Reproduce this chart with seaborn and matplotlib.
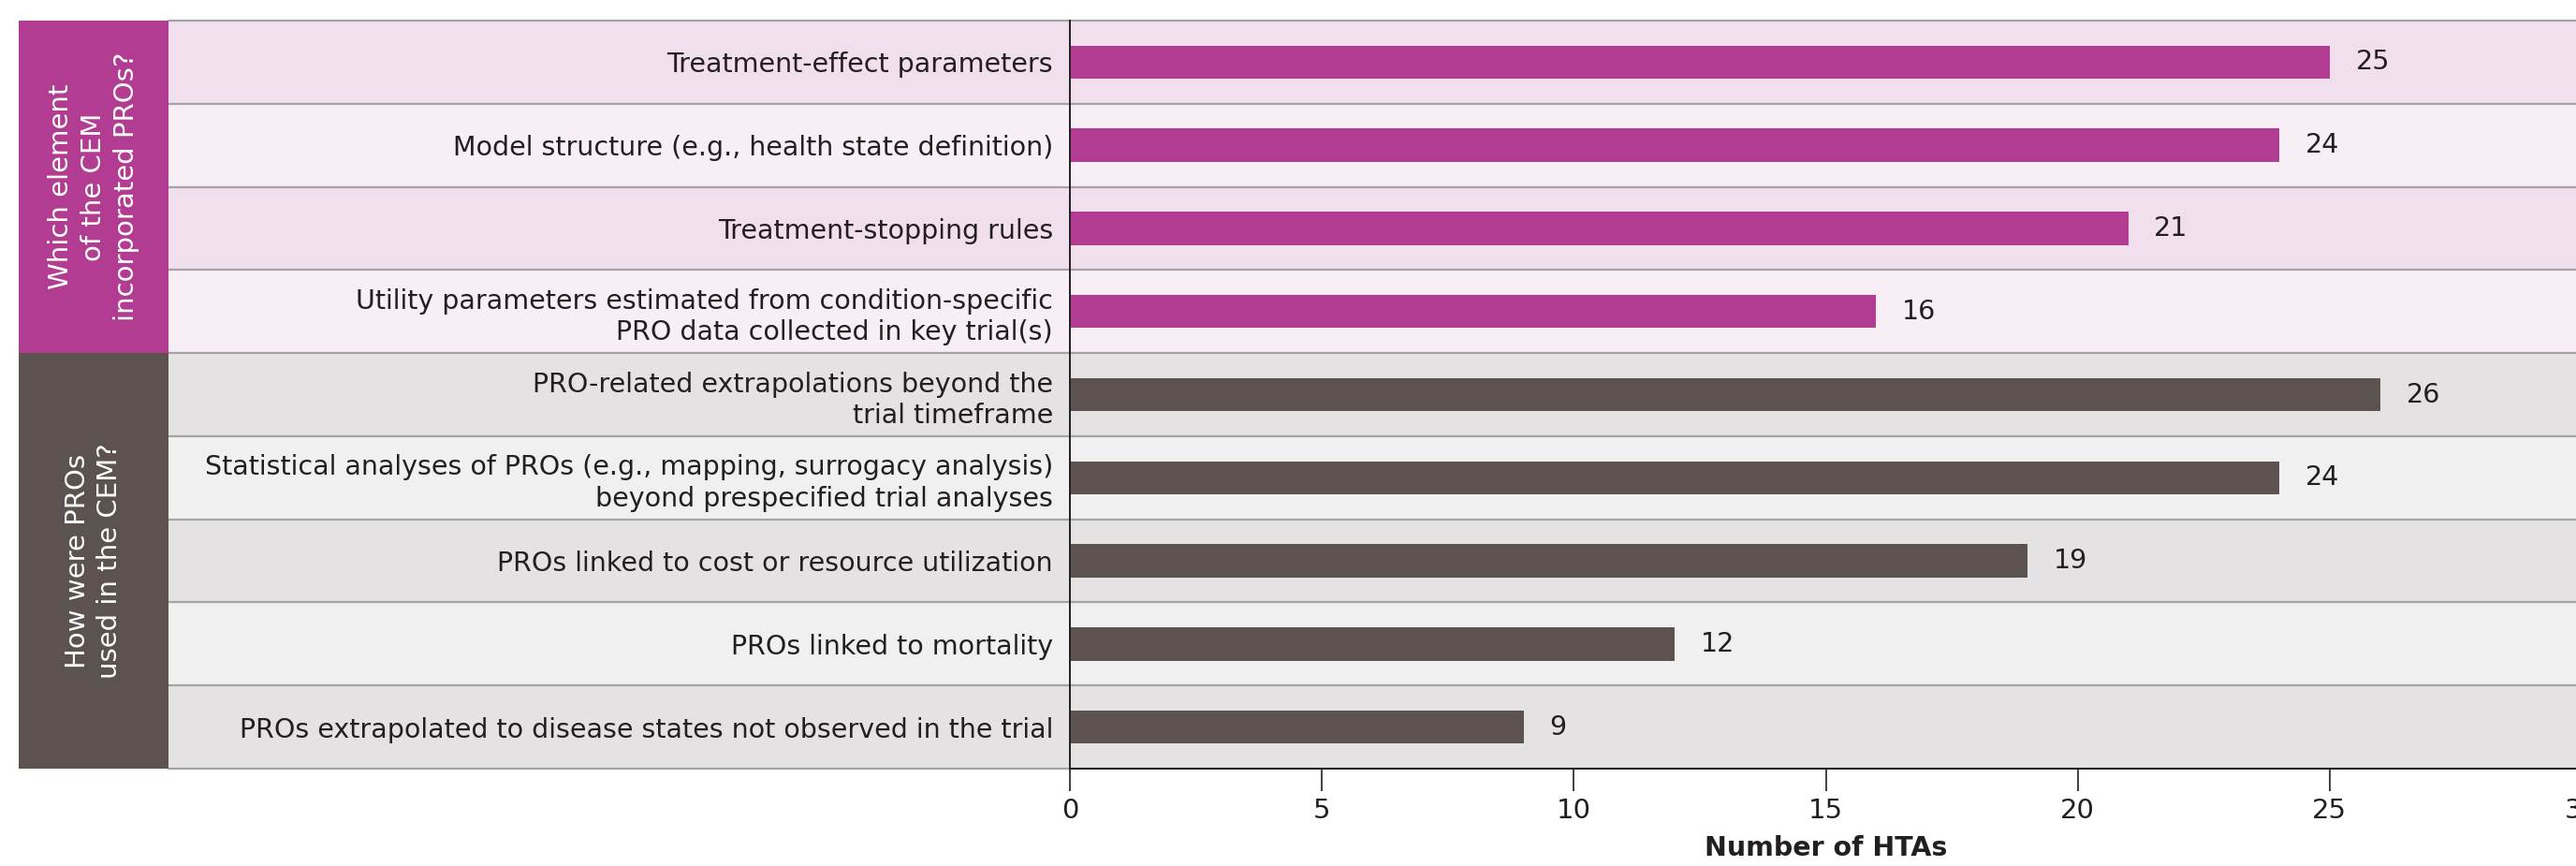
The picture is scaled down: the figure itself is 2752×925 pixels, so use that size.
import pandas as pd
import seaborn as sns
import matplotlib.pyplot as plt
import matplotlib.transforms as mtransforms
from matplotlib.patches import Rectangle

# ── Data ───────────────────────────────────────────────────────────────────────
labels = [
    "Treatment-effect parameters",
    "Model structure (e.g., health state definition)",
    "Treatment-stopping rules",
    "Utility parameters estimated from condition-specific\nPRO data collected in key trial(s)",
    "PRO-related extrapolations beyond the\ntrial timeframe",
    "Statistical analyses of PROs (e.g., mapping, surrogacy analysis)\nbeyond prespecified trial analyses",
    "PROs linked to cost or resource utilization",
    "PROs linked to mortality",
    "PROs extrapolated to disease states not observed in the trial",
]
counts = [25, 24, 21, 16, 26, 24, 19, 12, 9]
groups = ["element"] * 4 + ["use"] * 5
group_titles = {
    "element": "Which element\nof the CEM\nincorporated PROs?",
    "use": "How were PROs\nused in the CEM?",
}
x_ticks = [0, 5, 10, 15, 20, 25, 30]

df = pd.DataFrame({"label": labels, "count": counts, "group": groups})

# ── Style ──────────────────────────────────────────────────────────────────────
magenta = "#B23C91"
darkgrey = "#5C5351"
band_colors = ["#F1DFEE", "#F8EEF6", "#F1DFEE", "#F8EEF6",
               "#E4E2E3", "#F0F0F0", "#E4E2E3", "#F0F0F0", "#E4E2E3"]
text_col = "#231F20"

sns.set_style("white")
plt.rcParams["font.family"] = ["DejaVu Sans"]

W, H = 2752, 925
fig = plt.figure(figsize=(W / 100, H / 100), dpi=100)
# axis x=0 at px 1143, x=30 at px 2758 ; rows from y=22 to y=821
ax = fig.add_axes([1143 / W, (H - 821) / H, (2758 - 1143) / W, (821 - 22) / H])

sns.barplot(data=df, x="count", y="label", hue="group",
            palette={"element": magenta, "use": darkgrey}, saturation=1,
            width=0.4, dodge=False, legend=False, ax=ax, zorder=3,
            linewidth=0)

ax.set_xlim(0, 30)
ax.set_ylim(8.5, -0.5)

# ── Row bands and separators (extend left under labels) ───────────────────────
xmin_frac = (180 - 1143) / (2758 - 1143)
for i, c in enumerate(band_colors):
    band = ax.axhspan(i - 0.5, i + 0.5, xmin=xmin_frac, xmax=1, color=c, zorder=0, lw=0)
    band.set_clip_on(False)
for i in range(10):
    ax.axhline(i - 0.5, xmin=xmin_frac, xmax=1, color="#A5A3A4", lw=1.6,
               zorder=1, clip_on=False)

# ── Group boxes ────────────────────────────────────────────────────────────────
trans = mtransforms.blended_transform_factory(fig.transFigure, ax.transData)
for y0, n, col, key in [(-0.5, 4, magenta, "element"), (3.5, 5, darkgrey, "use")]:
    ax.add_patch(Rectangle((20 / W, y0), 160 / W, n, transform=trans,
                           color=col, lw=0, clip_on=False, zorder=2))
    ax.text(100 / W, y0 + n / 2, group_titles[key], transform=trans,
            rotation=90, ha="center", va="center", color="white",
            fontsize=21, fontweight="medium", linespacing=1.3,
            clip_on=False, zorder=4)

# ── Value labels ───────────────────────────────────────────────────────────────
for cont in ax.containers:
    ax.bar_label(cont, padding=20, fontsize=20.5, color=text_col)

# ── Axes ───────────────────────────────────────────────────────────────────────
ax.set_xticks(x_ticks)
ax.set_xticklabels([str(t) for t in x_ticks])
ax.set_yticks(range(len(labels)))
ax.set_yticklabels(labels, fontsize=20.5, color=text_col, linespacing=1.25)
for t in ax.get_yticklabels():
    t.set_multialignment("right")
ax.set_yticks([i - 0.5 for i in range(10)], minor=True)
ax.tick_params(axis="y", which="major", length=0, pad=13)
ax.tick_params(axis="y", which="minor", length=18, width=1.4, color=text_col,
               direction="out", left=True)
ax.tick_params(axis="x", length=17, width=1.2, color=text_col, pad=5,
               labelsize=21, labelcolor=text_col, bottom=True)

ax.set_ylabel("")
ax.set_xlabel("Number of HTAs", fontsize=20.5, fontweight="bold", color=text_col,
              labelpad=9)
for s in ["top", "right"]:
    ax.spines[s].set_visible(False)
for s in ["left", "bottom"]:
    ax.spines[s].set_color(text_col)
    ax.spines[s].set_linewidth(1.4)
    ax.spines[s].set_zorder(5)
ax.set_facecolor("none")

plt.savefig("out.png", dpi=100)
